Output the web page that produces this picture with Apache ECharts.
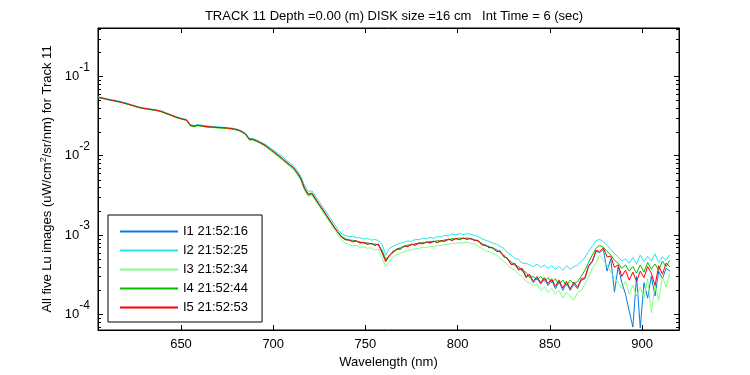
<!DOCTYPE html>
<html><head><meta charset="utf-8">
<script src="https://cdn.jsdelivr.net/npm/echarts@6/dist/echarts.min.js"></script>
<style>html,body{margin:0;padding:0;background:#fff}#c{width:750px;height:375px}</style>
</head><body><div id="c"></div>
<script>
const titleText = 'TRACK 11 Depth =0.00 (m) DISK size =16 cm   Int Time = 6 (sec)';
const xName = 'Wavelength (nm)';
const seriesNames = ['I1 21:52:16','I2 21:52:25','I3 21:52:34','I4 21:52:44','I5 21:52:53'];
const seriesColors = ['#0a78e6','#22e8f0','#80ff80','#00c000','#ff0000'];

const wavelength = [605,607,609,611,613,615,617,619,621,623,625,627,629,631,633,635,637,639,641,643,645,647,649,651,653,655,657,659,661,663,665,667,669,671,673,675,677,679,681,683,685,687,689,691,693,695,697,699,701,703,705,707,709,711,713,715,717,719,721,723,725,727,729,731,733,735,737,739,741,743,745,747,749,751,753,755,757,759,761,763,765,767,769,771,773,775,777,779,781,783,785,787,789,791,793,795,797,799,801,803,805,807,809,811,813,815,817,819,821,823,825,827,829,831,833,835,837,839,841,843,845,847,849,851,853,855,857,859,861,863,865,867,869,871,873,875,877,879,881,883,885,887,889,891,893,895,897,899,901,903,905,907,909,911,913,915];

const i1 = [0.0545,0.0533,0.0520,0.0508,0.0497,0.0487,0.0476,0.0463,0.0449,0.0435,
0.0421,0.0408,0.0398,0.0391,0.0385,0.0378,0.0372,0.0363,0.0349,0.0335,
0.0322,0.0308,0.0298,0.0289,0.0282,0.0243,0.0236,0.0242,0.0238,0.0234,
0.0231,0.0230,0.0228,0.0226,0.0225,0.0223,0.0220,0.0216,0.0211,0.0201,
0.0188,0.0162,0.0161,0.0154,0.0146,0.0138,0.0128,0.0118,0.0109,0.0100,
0.00917,0.00838,0.00768,0.00704,0.00612,0.00516,0.00388,0.00325,0.00336,0.00284,
0.00242,0.00207,0.00176,0.00149,0.00127,
0.00109,0.000950,0.000880,0.000860,0.000830,0.000840,0.000800,0.000800,0.000770,0.000780,
0.000750,0.000760,0.000610,0.000470,0.000550,0.000610,0.000660,0.000670,0.000720,0.000720,
0.000760,0.000750,0.000790,0.000780,0.000810,0.000800,0.000830,0.000810,0.000840,0.000840,
0.000880,0.000860,0.000900,0.000880,0.000910,0.000890,0.000900,0.000860,0.000850,0.000760,
0.000740,0.000700,0.000690,0.000630,0.000620,0.000540,0.000500,0.000430,0.000430,0.000360,
0.000370,0.000290,0.000310,0.000250,0.000290,0.000240,0.000280,0.000230,0.000270,0.000210,
0.000260,0.000200,0.000250,0.000200,0.000240,0.000210,0.000270,0.000280,0.000400,0.000460,
0.000620,0.000600,0.000660,0.000350,0.000500,0.000190,0.000400,0.000250,0.000180,0.000110,
0.000069,0.000300,0.000067,0.000250,0.000160,0.000300,0.000170,0.000350,0.000280,0.000380,
0.000350];

const i2 = [0.0550,0.0540,0.0528,0.0515,0.0506,0.0498,0.0485,0.0470,0.0458,0.0440,
0.0428,0.0413,0.0405,0.0396,0.0391,0.0383,0.0377,0.0370,0.0354,0.0340,
0.0326,0.0313,0.0303,0.0293,0.0286,0.0247,0.0240,0.0246,0.0243,0.0240,
0.0237,0.0234,0.0233,0.0230,0.0228,0.0226,0.0224,0.0220,0.0214,0.0205,
0.0191,0.0166,0.0165,0.0158,0.0150,0.0142,0.0133,0.0123,0.0114,0.0105,
0.00970,0.00885,0.00810,0.00745,0.00650,0.00550,0.00420,0.00350,0.00362,0.00305,
0.00262,0.00224,0.00190,0.00162,0.00138,
0.00118,0.00104,0.000990,0.000950,0.000960,0.000920,0.000930,0.000890,0.000910,0.000860,
0.000880,0.000850,0.000760,0.000560,0.000680,0.000720,0.000760,0.000790,0.000810,0.000840,
0.000830,0.000880,0.000870,0.000910,0.000890,0.000930,0.000910,0.000960,0.000940,0.000990,
0.000970,0.00103,0.00100,0.00104,0.00101,0.00104,0.00102,0.000990,0.000960,0.000900,
0.000860,0.000830,0.000790,0.000770,0.000720,0.000680,0.000600,0.000560,0.000510,0.000490,
0.000440,0.000440,0.000420,0.000400,0.000430,0.000390,0.000420,0.000380,0.000410,0.000370,
0.000400,0.000360,0.000410,0.000370,0.000400,0.000420,0.000460,0.000520,0.000620,0.000720,
0.000850,0.000880,0.000820,0.000740,0.000660,0.000580,0.000530,0.000470,0.000500,0.000440,
0.000520,0.000430,0.000560,0.000460,0.000540,0.000470,0.000580,0.000450,0.000530,0.000480,
0.000560];

const i3 = [0.0540,0.0528,0.0515,0.0503,0.0492,0.0482,0.0471,0.0458,0.0444,0.0431,
0.0417,0.0404,0.0394,0.0387,0.0381,0.0374,0.0368,0.0358,0.0344,0.0330,
0.0317,0.0303,0.0294,0.0285,0.0278,0.0237,0.0230,0.0238,0.0234,0.0230,
0.0227,0.0226,0.0224,0.0222,0.0221,0.0219,0.0216,0.0212,0.0207,0.0196,
0.0183,0.0157,0.0157,0.0150,0.0142,0.0134,0.0124,0.0113,0.0104,0.00950,
0.00870,0.00790,0.00725,0.00662,0.00575,0.00485,0.00365,0.00305,0.00316,0.00266,
0.00227,0.00194,0.00165,0.00140,0.00119,
0.00100,0.000860,0.000790,0.000760,0.000730,0.000740,0.000700,0.000710,0.000680,0.000690,
0.000650,0.000660,0.000520,0.000400,0.000460,0.000530,0.000560,0.000590,0.000620,0.000640,
0.000650,0.000670,0.000680,0.000700,0.000690,0.000720,0.000710,0.000740,0.000730,0.000760,
0.000760,0.000790,0.000780,0.000800,0.000790,0.000810,0.000780,0.000770,0.000720,0.000680,
0.000630,0.000620,0.000580,0.000560,0.000510,0.000470,0.000420,0.000380,0.000360,0.000320,
0.000300,0.000260,0.000250,0.000230,0.000240,0.000200,0.000220,0.000190,0.000210,0.000180,
0.000200,0.000160,0.000190,0.000170,0.000150,0.000190,0.000200,0.000240,0.000300,0.000380,
0.000440,0.000560,0.000480,0.000420,0.000340,0.000290,0.000250,0.000210,0.000260,0.000180,
0.000230,0.000170,0.000220,0.000160,0.000280,0.000105,0.000230,0.000150,0.000300,0.000220,
0.000330];

const i4 = [0.0541,0.0529,0.0516,0.0504,0.0493,0.0483,0.0472,0.0459,0.0445,0.0432,
0.0418,0.0405,0.0395,0.0388,0.0382,0.0375,0.0369,0.0360,0.0346,0.0332,
0.0319,0.0305,0.0295,0.0286,0.0279,0.0239,0.0232,0.0240,0.0236,0.0232,
0.0229,0.0228,0.0226,0.0224,0.0223,0.0221,0.0218,0.0214,0.0209,0.0199,
0.0186,0.0159,0.0159,0.0152,0.0144,0.0136,0.0126,0.0116,0.0107,0.00980,
0.00900,0.00820,0.00752,0.00690,0.00598,0.00505,0.00378,0.00318,0.00330,0.00278,
0.00237,0.00203,0.00172,0.00146,0.00124,
0.00110,0.000960,0.000900,0.000860,0.000860,0.000830,0.000820,0.000790,0.000800,0.000770,
0.000770,0.000750,0.000640,0.000500,0.000540,0.000630,0.000650,0.000700,0.000710,0.000750,
0.000750,0.000780,0.000780,0.000810,0.000800,0.000830,0.000820,0.000850,0.000840,0.000870,
0.000870,0.000900,0.000890,0.000920,0.000900,0.000920,0.000890,0.000880,0.000830,0.000790,
0.000730,0.000720,0.000670,0.000660,0.000600,0.000560,0.000490,0.000460,0.000410,0.000400,
0.000350,0.000340,0.000290,0.000300,0.000270,0.000300,0.000260,0.000290,0.000250,0.000280,
0.000240,0.000270,0.000230,0.000270,0.000240,0.000260,0.000300,0.000360,0.000450,0.000560,
0.000680,0.000740,0.000700,0.000620,0.000560,0.000480,0.000440,0.000380,0.000420,0.000350,
0.000400,0.000330,0.000420,0.000340,0.000450,0.000370,0.000430,0.000360,0.000470,0.000400,
0.000480];

const i5 = [0.0545,0.0533,0.0520,0.0508,0.0497,0.0487,0.0476,0.0463,0.0449,0.0435,
0.0421,0.0408,0.0398,0.0391,0.0385,0.0378,0.0372,0.0363,0.0349,0.0335,
0.0322,0.0308,0.0298,0.0289,0.0282,0.0243,0.0236,0.0242,0.0238,0.0234,
0.0231,0.0230,0.0228,0.0226,0.0225,0.0223,0.0220,0.0216,0.0211,0.0201,
0.0188,0.0162,0.0161,0.0154,0.0146,0.0138,0.0128,0.0118,0.0109,0.0100,
0.00917,0.00838,0.00768,0.00704,0.00612,0.00516,0.00388,0.00325,0.00336,0.00284,
0.00242,0.00207,0.00176,0.00149,0.00127,
0.00108,0.000940,0.000870,0.000870,0.000820,0.000850,0.000790,0.000810,0.000760,0.000790,
0.000740,0.000770,0.000600,0.000460,0.000560,0.000600,0.000670,0.000660,0.000730,0.000710,
0.000770,0.000740,0.000800,0.000770,0.000820,0.000790,0.000840,0.000800,0.000850,0.000830,
0.000890,0.000850,0.000910,0.000870,0.000920,0.000880,0.000910,0.000850,0.000860,0.000750,
0.000750,0.000690,0.000700,0.000620,0.000630,0.000530,0.000510,0.000420,0.000440,0.000370,
0.000380,0.000300,0.000320,0.000260,0.000300,0.000250,0.000290,0.000245,0.000280,0.000225,
0.000270,0.000215,0.000260,0.000210,0.000255,0.000220,0.000280,0.000290,0.000410,0.000470,
0.000640,0.000620,0.000690,0.000530,0.000540,0.000390,0.000420,0.000300,0.000360,0.000270,
0.000340,0.000260,0.000350,0.000290,0.000400,0.000330,0.000230,0.000410,0.000320,0.000440,
0.000400];

const seriesValues = [i1, i2, i3, i4, i5];

const xMin = 605, xMax = 920;
const yMin = 6.34e-5, yMax = 0.407;

// minor log ticks (axis decoration)
const minorTicks = [];
for (let d = -5; d <= -1; d++) {
  for (let k = 2; k <= 9; k++) {
    const v = k * Math.pow(10, d);
    if (v > yMin && v < yMax) minorTicks.push(v);
  }
}

const FONT = '"Liberation Sans", Arial, Helvetica, sans-serif';
const chart = echarts.init(document.getElementById('c'), null, {renderer: 'canvas'});

const lineSeries = seriesNames.map((n, i) => ({
  type: 'line', name: n,
  data: wavelength.map((w, j) => [w, seriesValues[i][j]]),
  showSymbol: false, symbol: 'none',
  lineStyle: {color: seriesColors[i], width: 1},
  itemStyle: {color: seriesColors[i]},
  emphasis: {disabled: true},
  animation: false
}));

const tickSeries = {
  type: 'custom', name: 'minorTicks', silent: true, animation: false,
  data: minorTicks.map(v => [xMin, v]),
  clip: false,
  renderItem: (params, api) => {
    const v = api.value(1);
    const l = api.coord([xMin, v]);
    const r = api.coord([xMax, v]);
    const y = Math.round(l[1]) + 0.5;
    return {type: 'group', children: [
      {type: 'line', shape: {x1: l[0], y1: y, x2: l[0] + 3, y2: y}, style: {stroke: '#000', lineWidth: 1}},
      {type: 'line', shape: {x1: r[0] - 3, y1: y, x2: r[0], y2: y}, style: {stroke: '#000', lineWidth: 1}}
    ]};
  }
};

function yLabel(v) {
  const e = Math.log10(v);
  const r = Math.round(e);
  if (Math.abs(e - r) > 1e-3) return '';
  return '{b|10}{s|' + r + '}';
}

chart.setOption({
  backgroundColor: '#fff',
  animation: false,
  title: {
    text: titleText, left: 389, top: 5, textAlign: 'center',
    textStyle: {fontSize: 13, fontWeight: 'normal', color: '#000', fontFamily: FONT}
  },
  grid: {left: 98, right: 71, top: 28, bottom: 45, show: true, borderColor: '#000', borderWidth: 1, backgroundColor: '#fff'},
  legend: {
    data: seriesNames, orient: 'vertical', left: 108, top: 215,
    padding: [10, 14, 8, 11], itemWidth: 58, itemHeight: 14, itemGap: 6,
    borderColor: '#000', borderWidth: 1, backgroundColor: '#fff', borderRadius: 0,
    itemStyle: {opacity: 0},
    textStyle: {fontSize: 13, color: '#000', fontFamily: FONT},
    selectedMode: false
  },
  xAxis: [{
    type: 'value', min: xMin, max: xMax, splitNumber: 6,
    name: xName, nameLocation: 'middle', nameGap: 25,
    nameTextStyle: {fontSize: 13, color: '#000', fontFamily: FONT},
    axisLine: {show: true, lineStyle: {color: '#000'}},
    axisTick: {show: true, inside: true, length: 5, lineStyle: {color: '#000'}},
    axisLabel: {color: '#000', fontSize: 13, fontFamily: FONT, margin: 8, showMinLabel: false, showMaxLabel: false,
      formatter: v => (Math.abs(v % 50) < 1e-6 ? String(v) : '')},
    splitLine: {show: false}
  }, {
    type: 'value', min: xMin, max: xMax, splitNumber: 6, position: 'top',
    axisLine: {show: true, lineStyle: {color: '#000'}},
    axisTick: {show: true, inside: true, length: 5, lineStyle: {color: '#000'}},
    axisLabel: {show: false}, splitLine: {show: false}
  }],
  yAxis: [{
    type: 'log', logBase: 10, min: yMin, max: yMax, splitNumber: 3,
    name: 'All five Lu images (uW/cm{sup|2}/sr/nm) for Track 11',
    nameLocation: 'middle', nameGap: 38, nameRotate: 90,
    nameTextStyle: {fontSize: 13, color: '#000', fontFamily: FONT,
      rich: {sup: {fontSize: 9, color: '#000', fontFamily: FONT, padding: [0, 0, 7, 0]}}},
    axisLine: {show: true, lineStyle: {color: '#000'}},
    axisTick: {show: true, inside: true, length: 5, lineStyle: {color: '#000'}},
    axisLabel: {
      color: '#000', margin: 8, showMinLabel: false, showMaxLabel: false,
      formatter: yLabel,
      rich: {
        b: {fontSize: 13, fontFamily: FONT, color: '#000', verticalAlign: 'middle', lineHeight: 30},
        s: {fontSize: 12, fontFamily: FONT, color: '#000', verticalAlign: 'top', lineHeight: 12}
      }
    },
    splitLine: {show: false}
  }, {
    type: 'log', logBase: 10, min: yMin, max: yMax, splitNumber: 3, position: 'right',
    axisLine: {show: true, lineStyle: {color: '#000'}},
    axisTick: {show: true, inside: true, length: 5, lineStyle: {color: '#000'}},
    axisLabel: {show: false}, splitLine: {show: false}
  }],
  series: lineSeries.concat([tickSeries])
});
</script></body></html>
